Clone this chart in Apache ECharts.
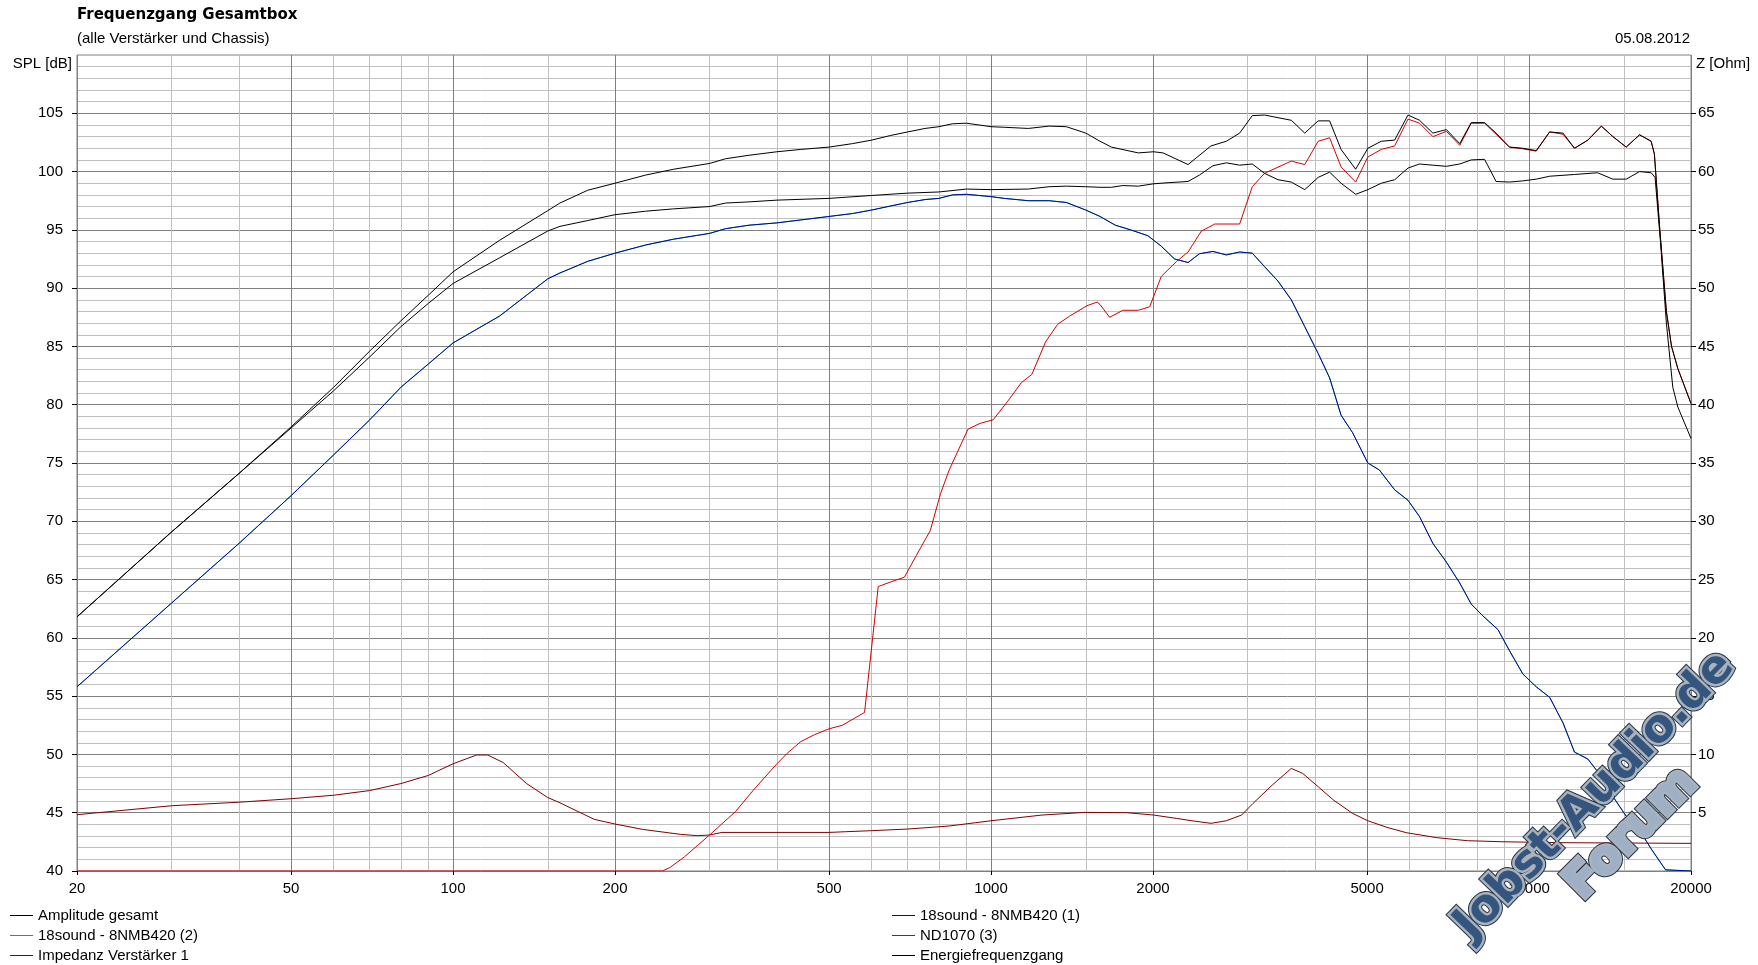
<!DOCTYPE html>
<html><head><meta charset="utf-8">
<script src="https://cdn.jsdelivr.net/npm/echarts@6/dist/echarts.min.js"></script>
<style>html,body{margin:0;padding:0;background:#fff}#c{width:1758px;height:965px}</style>
</head><body><div id="c"></div>
<script>
// ---- tick labels ----
const xMajorTicks = [20, 50, 100, 200, 500, 1000, 2000, 5000, 10000, 20000];
const xMinorTicks = [30, 40, 60, 70, 80, 90, 150, 300, 400, 600, 700, 800, 900, 1500, 3000, 4000, 6000, 7000, 8000, 9000, 15000];
const splTicks = [40, 45, 50, 55, 60, 65, 70, 75, 80, 85, 90, 95, 100, 105];
const ohmTicks = [5, 10, 15, 20, 25, 30, 35, 40, 45, 50, 55, 60, 65];

// ---- series names ----
const names = ['Amplitude gesamt', '18sound - 8NMB420 (2)', 'Impedanz Verstärker 1',
               '18sound - 8NMB420 (1)', 'ND1070 (3)', 'Energiefrequenzgang'];

// ---- series values: [frequency Hz, SPL dB] ----
const ampGesamt = [[20,61.8],[30,69.1],[40,74.1],[50,78.1],[60,81.5],[70,84.6],[80,87.2],[90,89.4],[100,91.4],[122,94.1],[150,96.65],[158,97.3],[178,98.4],[200,99.0],[228,99.7],[257,100.2],[300,100.7],[321,101.1],[355,101.4],[400,101.7],[443,101.9],[500,102.1],[553,102.4],[600,102.7],[651,103.1],[700,103.4],[754,103.7],[800,103.85],[848,104.1],[900,104.15],[1000,103.85],[1058,103.8],[1173,103.7],[1282,103.9],[1380,103.85],[1500,103.3],[1594,102.6],[1674,102.1],[1878,101.6],[2005,101.7],[2088,101.6],[2324,100.6],[2563,102.2],[2737,102.6],[2898,103.3],[3059,104.8],[3223,104.85],[3615,104.4],[3829,103.3],[4055,104.35],[4259,104.35],[4473,101.9],[4761,100.2],[5016,102.0],[5313,102.6],[5626,102.7],[5957,104.85],[6258,104.4],[6626,103.3],[7020,103.6],[7434,102.4],[7808,104.2],[8268,104.2],[8683,103.3],[9196,102.1],[9738,102.0],[10313,101.8],[10922,103.4],[11566,103.3],[12148,102.0],[12865,102.7],[13627,103.9],[14314,103.0],[15156,102.1],[16051,103.15],[16864,102.6],[17100,101.5],[17500,95],[18000,88],[18400,85],[18905,83.1],[20000,80.1]];

const energie = [[20,61.8],[30,69.1],[40,74.1],[50,78.0],[60,81.2],[70,84.1],[80,86.7],[90,88.7],[100,90.4],[122,92.6],[150,94.9],[158,95.3],[178,95.8],[200,96.3],[228,96.6],[257,96.8],[300,97.0],[321,97.3],[355,97.4],[400,97.55],[500,97.7],[600,97.95],[700,98.15],[800,98.25],[900,98.5],[1000,98.45],[1173,98.5],[1282,98.7],[1380,98.75],[1500,98.7],[1594,98.65],[1674,98.65],[1758,98.8],[1878,98.75],[2005,98.95],[2141,99.05],[2324,99.15],[2440,99.7],[2584,100.5],[2737,100.75],[2898,100.55],[3059,100.65],[3223,99.85],[3415,99.3],[3615,99.1],[3829,98.45],[4055,99.5],[4259,99.95],[4473,99.0],[4761,98.05],[5016,98.45],[5313,99.0],[5626,99.3],[5957,100.3],[6258,100.65],[6626,100.55],[7020,100.45],[7434,100.65],[7808,101.0],[8268,101.05],[8683,99.15],[9196,99.1],[9738,99.2],[10313,99.35],[10922,99.6],[12148,99.75],[13405,99.9],[14314,99.35],[15156,99.35],[16051,100.0],[16864,99.9],[17150,99.5],[17550,94],[18000,87],[18500,81.5],[18905,79.8],[20000,77.1]];

const woofer1 = [[20,55.8],[30,63.0],[40,68.1],[50,72.2],[60,75.7],[70,78.7],[80,81.5],[90,83.5],[100,85.3],[122,87.6],[150,90.8],[158,91.3],[178,92.3],[200,93.0],[228,93.7],[257,94.2],[300,94.7],[321,95.1],[355,95.4],[400,95.6],[443,95.85],[500,96.15],[553,96.4],[600,96.7],[651,97.05],[700,97.35],[754,97.6],[800,97.7],[848,98.0],[900,98.05],[1000,97.85],[1058,97.7],[1173,97.5],[1282,97.5],[1380,97.35],[1500,96.7],[1594,96.15],[1702,95.4],[1817,95.0],[1956,94.5],[2072,93.6],[2193,92.5],[2324,92.2],[2440,92.95],[2584,93.15],[2737,92.85],[2898,93.1],[3059,93.0],[3223,91.85],[3415,90.6],[3615,89.0],[3829,86.7],[4055,84.4],[4259,82.3],[4473,79.1],[4699,77.6],[5016,75.0],[5270,74.4],[5626,72.7],[5957,71.8],[6258,70.4],[6626,68.1],[7020,66.5],[7434,64.7],[7808,62.9],[8200,61.9],[8757,60.7],[9196,58.9],[9738,56.9],[10313,55.8],[10922,54.9],[11566,52.7],[12148,50.2],[12865,49.6],[13627,48.1],[14314,46.4],[15156,44.7],[16051,43.5],[16864,41.9],[17936,40.1],[20000,40]];

const woofer2 = woofer1.map(p => [p[0], p[1]]); // identical driver, hidden under (1)

const nd1070 = [[20,40],[245,40],[253,40.3],[269,41.2],[300,43.1],[335,45.1],[361,46.9],[400,49.2],[418,50.1],[443,51.1],[470,51.7],[500,52.2],[529,52.5],[582,53.6],[617,64.4],[651,64.8],[690,65.2],[727,67.1],[771,69.2],[806,72.4],[836,74.4],[906,77.9],[954,78.4],[1009,78.7],[1074,80.3],[1139,81.9],[1191,82.6],[1263,85.4],[1330,86.9],[1400,87.6],[1508,88.5],[1575,88.8],[1594,88.6],[1661,87.5],[1758,88.1],[1878,88.1],[1972,88.4],[2072,91.0],[2213,92.3],[2324,93.1],[2460,94.9],[2606,95.5],[2898,95.5],[3059,98.7],[3223,99.85],[3615,100.9],[3829,100.6],[4055,102.6],[4259,102.9],[4473,100.4],[4761,99.1],[5016,101.25],[5313,101.9],[5626,102.2],[5957,104.5],[6258,104.15],[6626,103.0],[7020,103.45],[7434,102.25],[7808,104.15],[8268,104.15],[8683,103.2],[9196,102.1],[9738,101.95],[10313,101.75],[10922,103.4],[11566,103.2],[12148,102.0],[12865,102.7],[13627,103.9],[14314,103.0],[15156,102.1],[16051,103.15],[16864,102.6],[17100,101.5],[17500,95],[18000,88],[18400,85],[18905,83.1],[20000,80.1]];

// ---- impedance: [frequency Hz, Z Ohm] ----
const impedanz = [[20,4.83],[30,5.6],[40,5.9],[50,6.2],[60,6.5],[70,6.9],[80,7.5],[90,8.2],[100,9.2],[110.6,9.95],[116,9.95],[124,9.3],[137,7.5],[150,6.3],[158,5.85],[183,4.43],[200,4.03],[225,3.57],[265,3.14],[285,3.03],[300,3.09],[316,3.31],[500,3.31],[537,3.37],[600,3.46],[700,3.6],[836,3.86],[1000,4.31],[1244,4.8],[1500,5.03],[1788,5.0],[2005,4.8],[2213,4.51],[2362,4.31],[2563,4.09],[2737,4.31],[2922,4.8],[3069,5.8],[3331,7.37],[3615,8.8],[3797,8.37],[4055,7.23],[4329,6.09],[4699,4.94],[5016,4.31],[5446,3.74],[5911,3.29],[6738,2.86],[7680,2.6],[8900,2.51],[11380,2.43],[20000,2.37]];

const FONT = '"Liberation Sans", Arial, sans-serif';
const chart = echarts.init(document.getElementById('c'), null, {renderer: 'canvas'});

function line(name, data, color, yIdx, z) {
  return {
    name: name, type: 'line', data: data, xAxisIndex: 1, yAxisIndex: yIdx,
    showSymbol: false, symbol: 'none', smooth: false, silent: true, z: z,
    color: color, itemStyle: {color: color}, lineStyle: {color: color, width: 1}
  };
}

const legendText = {fontSize: 15, color: '#000', fontFamily: FONT, lineHeight: 15};

chart.setOption({
  animation: false,
  backgroundColor: '#fff',
  grid: {left: 77, top: 55, width: 1614, height: 816, show: true, borderColor: '#808080', borderWidth: 1, backgroundColor: '#fff'},
  xAxis: [
    {type: 'log', logBase: 10, min: 20, max: 20000, position: 'top',
     axisLine: {show: false}, axisTick: {show: false, customValues: xMinorTicks},
     axisLabel: {show: false, customValues: xMinorTicks},
     splitLine: {show: true, lineStyle: {color: '#c0c0c0', width: 1}}},
    {type: 'log', logBase: 10, min: 20, max: 20000, position: 'bottom',
     axisLine: {show: false},
     axisTick: {show: true, customValues: xMajorTicks, length: 4, lineStyle: {color: '#000'}},
     axisLabel: {customValues: xMajorTicks, formatter: v => String(Math.round(v)), fontSize: 15, color: '#000', margin: 10, fontFamily: FONT},
     splitLine: {show: true, lineStyle: {color: '#808080', width: 1}}}
  ],
  yAxis: [
    {type: 'value', min: 40, max: 110, interval: 5, position: 'left',
     axisLine: {show: false},
     axisTick: {show: true, length: 5, customValues: splTicks, lineStyle: {color: '#000'}},
     axisLabel: {customValues: splTicks, fontSize: 15, color: '#000', margin: 14, fontFamily: FONT},
     splitLine: {show: true, lineStyle: {color: '#808080', width: 1}},
     minorTick: {show: false, splitNumber: 5},
     minorSplitLine: {show: true, lineStyle: {color: '#c0c0c0', width: 1}}},
    {type: 'value', min: 0, max: 70, interval: 5, position: 'right',
     axisLine: {show: false},
     axisTick: {show: true, length: 5, customValues: ohmTicks, lineStyle: {color: '#000'}},
     axisLabel: {customValues: ohmTicks, fontSize: 15, color: '#000', margin: 7, fontFamily: FONT},
     splitLine: {show: false}}
  ],
  legend: [
    {left: 10, top: 908, orient: 'vertical', padding: 0, itemGap: 5, itemWidth: 23, itemHeight: 1,
     icon: 'rect', selectedMode: false, data: [names[0], names[1], names[2]], textStyle: legendText},
    {left: 892, top: 908, orient: 'vertical', padding: 0, itemGap: 5, itemWidth: 23, itemHeight: 1,
     icon: 'rect', selectedMode: false, data: [names[3], names[4], names[5]], textStyle: legendText}
  ],
  series: [
    line(names[1], woofer2, '#00c000', 0, 2),
    line(names[3], woofer1, '#0000c0', 0, 3),
    line(names[2], impedanz, '#800000', 1, 4),
    line(names[4], nd1070, '#d40000', 0, 5),
    line(names[5], energie, '#000000', 0, 6),
    line(names[0], ampGesamt, '#000000', 0, 7)
  ],
  graphic: [
    {type: 'text', x: 77, y: 15, style: {text: 'Frequenzgang Gesamtbox', font: 'bold 15px "DejaVu Sans"', fill: '#000', verticalAlign: 'middle'}},
    {type: 'text', x: 77, y: 39, style: {text: '(alle Verstärker und Chassis)', font: '15px "Liberation Sans"', fill: '#000', verticalAlign: 'middle'}},
    {type: 'text', x: 1690, y: 39, style: {text: '05.08.2012', font: '15px "Liberation Sans"', fill: '#000', align: 'right', verticalAlign: 'middle'}},
    {type: 'text', x: 72, y: 64, style: {text: 'SPL [dB]', font: '15px "Liberation Sans"', fill: '#000', align: 'right', verticalAlign: 'middle'}},
    {type: 'text', x: 1696, y: 64, style: {text: 'Z [Ohm]', font: '15px "Liberation Sans"', fill: '#000', align: 'left', verticalAlign: 'middle'}},
    // watermark
    {type: 'text', x: 1595, y: 796, rotation: 46 * Math.PI / 180, z: 200,
     style: {text: 'Jobst-Audio.de', font: 'bold 46px "DejaVu Sans"', fill: '#22344c', stroke: '#22344c', lineWidth: 7, align: 'center', verticalAlign: 'middle'}},
    {type: 'text', x: 1595, y: 796, rotation: 46 * Math.PI / 180, z: 201,
     style: {text: 'Jobst-Audio.de', font: 'bold 46px "DejaVu Sans"', fill: '#34567e', stroke: '#aab2bb', lineWidth: 5, strokeFirst: true, align: 'center', verticalAlign: 'middle'}},
    {type: 'text', x: 1632, y: 834, rotation: 45 * Math.PI / 180, z: 200,
     style: {text: 'Forum', font: 'bold 46px "DejaVu Sans"', fill: '#22344c', stroke: '#22344c', lineWidth: 7, align: 'center', verticalAlign: 'middle'}},
    {type: 'text', x: 1632, y: 834, rotation: 45 * Math.PI / 180, z: 201,
     style: {text: 'Forum', font: 'bold 46px "DejaVu Sans"', fill: '#9eb0c5',
       stroke: '#aab2bb', lineWidth: 5, strokeFirst: true, align: 'center', verticalAlign: 'middle'}}
  ]
});
</script>
</body></html>
